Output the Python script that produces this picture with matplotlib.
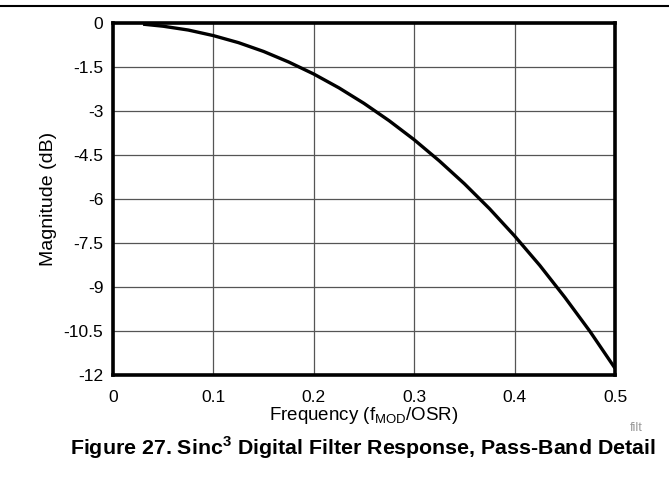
import numpy as np
import matplotlib.pyplot as plt
from matplotlib.lines import Line2D

plt.rcParams['font.family'] = ['Liberation Sans', 'DejaVu Sans']

# Frequency (fMOD/OSR) and magnitude (dB)
freq = [0.03, 0.05, 0.075, 0.1, 0.125, 0.15, 0.175, 0.2, 0.225, 0.25,
        0.275, 0.3, 0.325, 0.35, 0.375, 0.4, 0.425, 0.45, 0.475, 0.5]
mag_db = [-0.04, -0.11, -0.24, -0.43, -0.67, -0.97, -1.33, -1.74, -2.21, -2.74,
          -3.33, -3.98, -4.70, -5.48, -6.33, -7.26, -8.26, -9.35, -10.51, -11.77]

x_ticks = [0, 0.1, 0.2, 0.3, 0.4, 0.5]
x_tick_labels = ['0', '0.1', '0.2', '0.3', '0.4', '0.5']
y_ticks = [0, -1.5, -3, -4.5, -6, -7.5, -9, -10.5, -12]
y_tick_labels = ['0', '-1.5', '-3', '-4.5', '-6', '-7.5', '-9', '-10.5', '-12']

fig = plt.figure(figsize=(6.69, 4.8), dpi=100)
ax = fig.add_axes([113 / 669, 1 - 375 / 480, 502 / 669, 352 / 480])

ax.plot(freq, mag_db, color='black', linewidth=2.4, solid_capstyle='butt')

ax.set_xlim(0, 0.5)
ax.set_ylim(-12, 0)
ax.set_xticks(x_ticks)
ax.set_xticklabels(x_tick_labels)
ax.set_yticks(y_ticks)
ax.set_yticklabels(y_tick_labels)
ax.tick_params(length=0, labelsize=12.5)
ax.tick_params(axis='x', pad=11)
ax.tick_params(axis='y', pad=7)
ax.grid(True, color='#555555', linewidth=0.9)
for s in ax.spines.values():
    s.set_linewidth(2.6)

ax.set_xlabel('Frequency (f$_{\\mathregular{MOD}}$/OSR)', fontsize=13.5, labelpad=0)
ax.set_ylabel('Magnitude (dB)', fontsize=14, labelpad=5)

# top rule line
fig.add_artist(Line2D([0, 1], [1 - 6 / 480, 1 - 6 / 480], color='black', linewidth=1.5,
                      transform=fig.transFigure))

fig.text(636 / 669, 1 - 428 / 480, 'filt', fontsize=9, color='#999999', ha='center', va='center')
fig.text(363 / 669, 1 - 448 / 480, 'Figure 27. Sinc$^{\\mathregular{3}}$ Digital Filter Response, Pass-Band Detail',
         fontsize=15.4, fontweight='bold', ha='center', va='center')

fig.savefig('out.png', dpi=100)
